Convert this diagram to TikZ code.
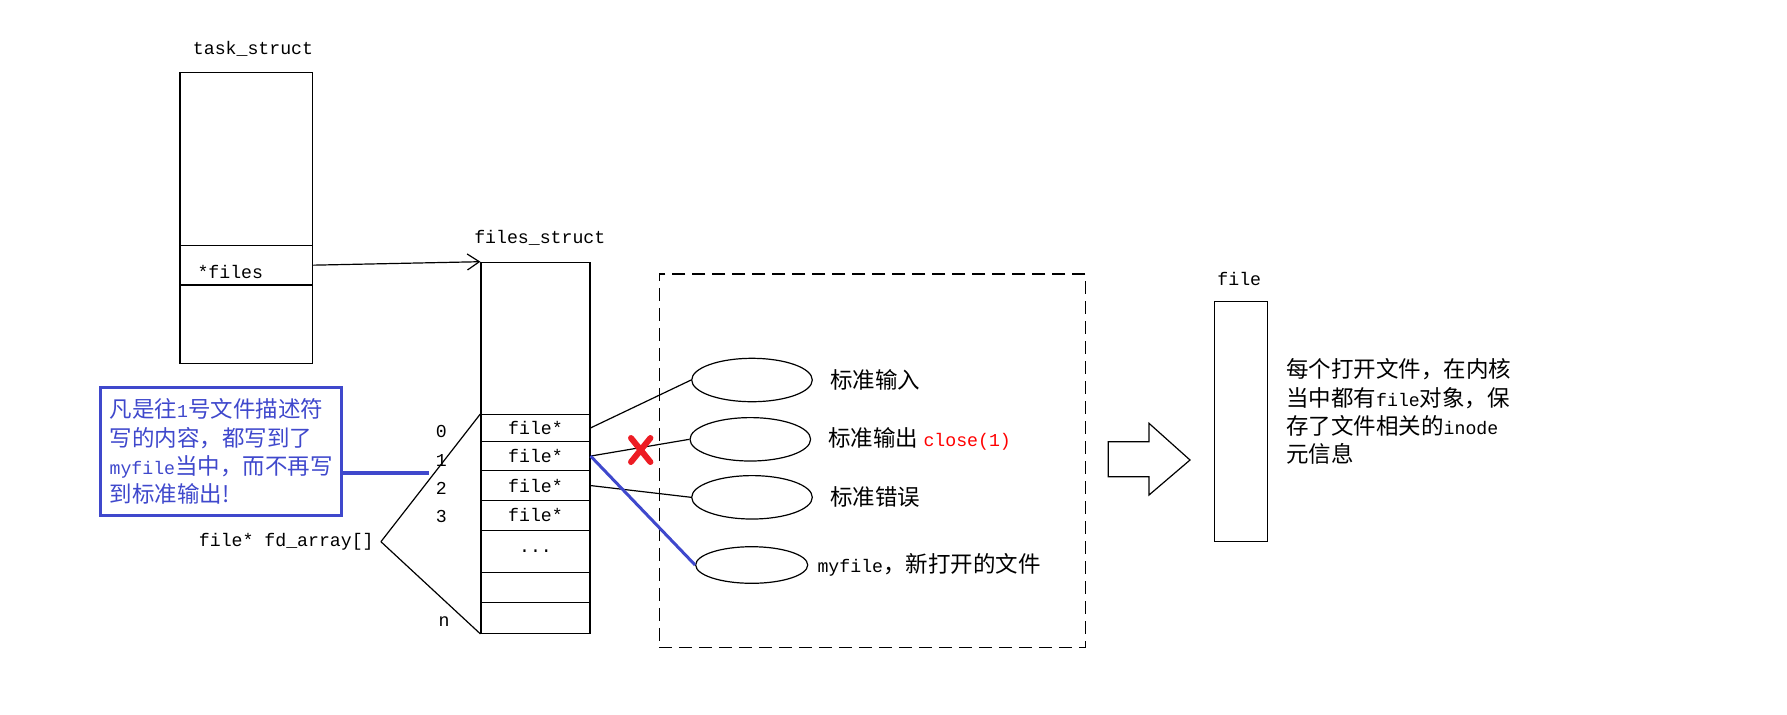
\documentclass[tikz,border=0pt]{standalone}
\usepackage{fontspec}
\setmonofont{Liberation Mono}
\newfontfamily\cjk{Noto Sans CJK SC}
\usetikzlibrary{shapes.geometric, arrows.meta, positioning}
\definecolor{paintblue}{RGB}{63,72,204}
\definecolor{paintred}{RGB}{237,28,36}
\newcommand{\lat}[1]{{\ttfamily\fontsize{9.1}{14.2}\selectfont #1}}
\newcommand{\ellip}{...}
\tikzset{
	mono/.style={font=\ttfamily\fontsize{9.1}{11}\selectfont},
	zh/.style={font=\cjk\fontsize{11.25}{14.2}\selectfont},
	cell/.style={draw, minimum width=54.5pt, inner sep=0pt, mono},
	oval/.style={draw, ellipse, inner sep=0pt, minimum width=60.3pt, minimum height=21.7pt},
}

\begin{document}
\begin{tikzpicture}[x=0.5pt, y=-0.5pt, line width=0.6pt]
	\useasboundingbox (0,0) rectangle (1787,714);
	\node[mono] (tasklbl) at (253,49) {task\_struct};
	\node[draw, minimum width=66.35pt, minimum height=145.3pt] (task) at (246.35,218) {};
	\node[draw, minimum width=66.35pt, minimum height=19.85pt] (filesfield) at (246.35,265.15) {};
	\node[mono, anchor=west] (filestxt) at (190.3,271.7) {*files};

	\node[mono] (fslbl) at (539.8,238.3) {files\_struct};
	\node[draw, minimum width=54.5pt, minimum height=76.1pt] (fs) at (535.5,338.4) {};
	\foreach \n/\y/\h/\t in {0/427.9/13.4/file*, 1/456.05/14.75/file*, 2/485.55/14.75/file*, 3/515.3/15/file*, 4/551.5/21.2/\ellip, 5/587.5/14.8/, 6/617.8/15.5/} {
		\node[cell, minimum height=\h pt] (r\n) at (535.5,\y) {\t};
	}
	\foreach \n/\y in {0/431.7, 1/460, 2/488.3, 3/516.7} {
		\node[mono] (i\n) at (441.4,\y) {\n};
	}
	\node[mono] (inn) at (444,621.7) {n};
	\node[mono] (fd) at (286.3,541.7) {file* fd\_array[]};
	\draw (fd.east) -- (r0.north west);
	\draw (fd.east) -- (r6.south west);
	\draw[-{Straight Barb[length=6pt, width=8pt]}] (filesfield.east) -- (fs.north west);

	\node[draw=paintblue, line width=1.6pt, minimum width=120.7pt, minimum height=64pt, align=left, text=paintblue, zh] (note) at (221.1,451.7) {凡是往\lat{1}号文件描述符\\写的内容，都写到了\\\lat{myfile}当中，而不再写\\到标准输出!};
	\draw[paintblue, line width=2pt] (note.east |- i1.south west) -- (i1.south west);

	\node[draw, dash pattern=on 6.5pt off 3.5pt, minimum width=213.2pt, minimum height=186.65pt] (tbl) at (872.5,460.65) {};
	\node[oval] (e1) at (752,380) {};
	\node[oval] (e2) at (750.3,439.3) {};
	\node[oval] (e3) at (752,497.3) {};
	\node[oval, minimum width=56pt, minimum height=18.3pt] (e4) at (751.7,565) {};
	\node[zh, right=5pt of e1] (l1) {标准输入};
	\node[zh, right=5pt of e2] (l2) {标准输出 \textcolor{red}{\lat{close(1)}}};
	\node[zh, right=5pt of e3] (l3) {标准错误};
	\node[zh, right=1pt of e4] (l4) {\lat{myfile}，新打开的文件};
	\draw (r0.east) -- (e1.west);
	\draw (r1.east) -- (e2.west);
	\draw (r2.east) -- (e3.west);
	\draw[paintblue, line width=1.5pt] (r1.east) -- (e4.west);
	\draw[paintred, line width=3pt, line cap=round] (631,438) -- (650.4,462) (650.4,438) -- (631,462);

	\draw (1108.3,441.7) -- (1149,441.7) -- (1149,423.3) -- (1190,460) -- (1149,495) -- (1149,476.7) -- (1108.3,476.7) -- cycle;
	\node[mono] (filelbl) at (1239.3,279.3) {file};
	\node[draw, minimum width=26.3pt, minimum height=120pt] (filebox) at (1241,421.7) {};
	\node[zh, align=left, right=5.5pt of filebox, yshift=5pt] (info) {每个打开文件，在内核\\当中都有\lat{file}对象，保\\存了文件相关的\lat{inode}\\元信息};
\end{tikzpicture}
\end{document}
